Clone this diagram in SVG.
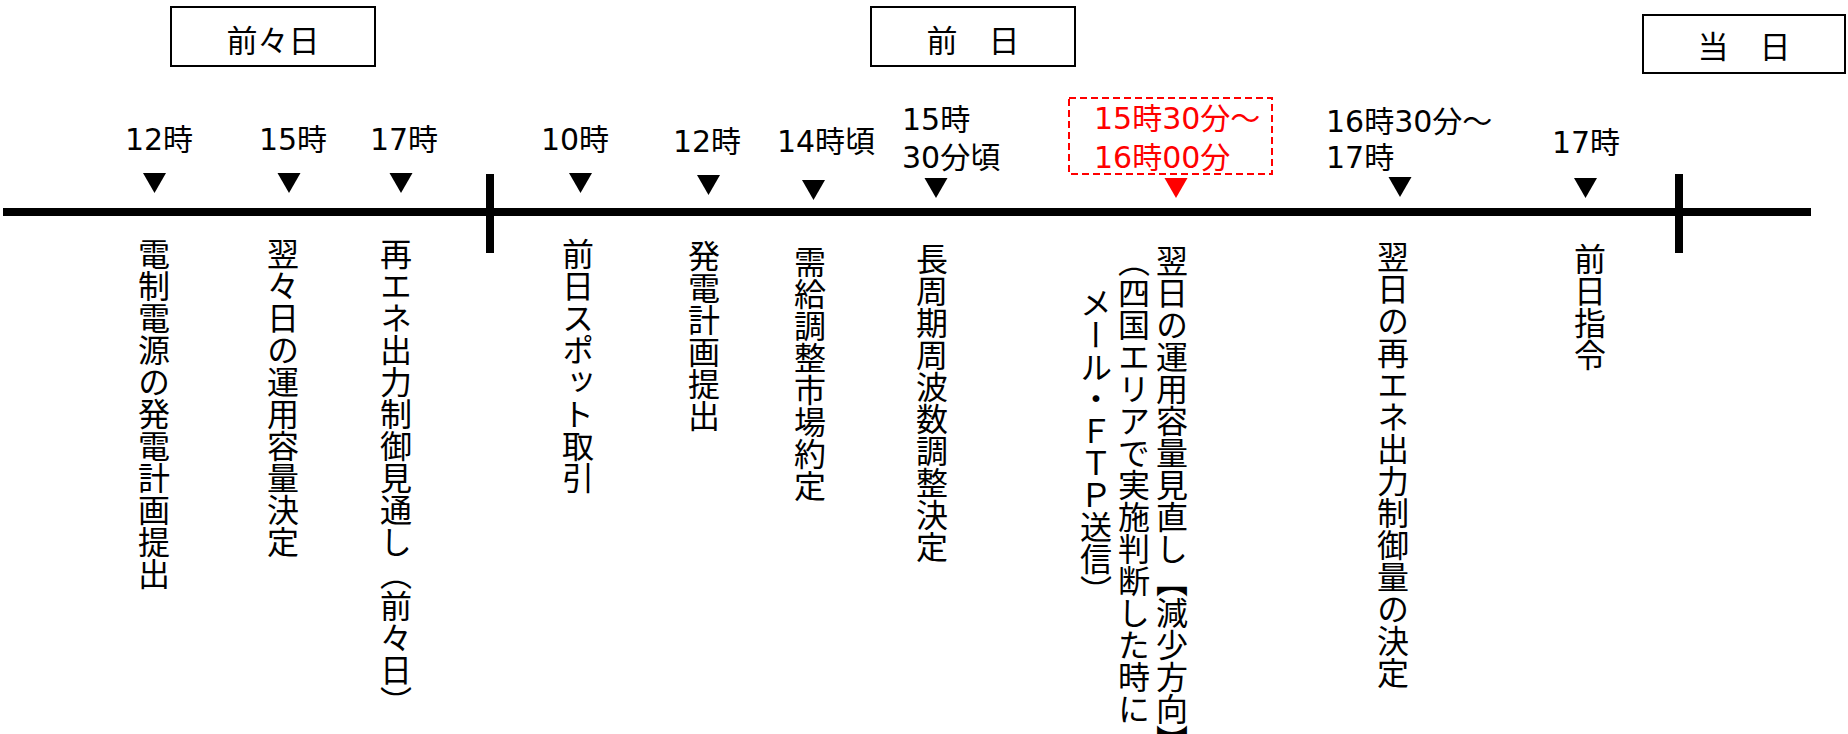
<svg xmlns="http://www.w3.org/2000/svg" width="1848" height="734" viewBox="0 0 1848 734">
<style>
.bg{fill:#fff}
.box{fill:#fff;stroke:#000;stroke-width:2}
.rbox{fill:none;stroke:#f00;stroke-width:2;stroke-dasharray:7 4}
.bt{font-family:"Noto Sans CJK JP",sans-serif;font-size:31px;fill:#000;text-anchor:middle}
.tl{font-family:"DejaVu Sans","Noto Sans CJK JP",sans-serif;font-size:30px;fill:#000}
.m{text-anchor:middle}
.red{fill:#f00}
.vt{font-family:"Noto Sans CJK JP",sans-serif;font-size:32px;fill:#000;writing-mode:vertical-rl}
.tri{fill:#000}
.line{stroke:#000;stroke-width:8;fill:none}
</style>
<defs>
<path id="tri" d="M-11.5,0 L11.5,0 L0,20 Z"/>
</defs>
<rect class="bg" x="0" y="0" width="1848" height="734"/>

<g id="connectors">
<line class="line" x1="3" y1="212" x2="1811" y2="212"/>
<line class="line" x1="490" y1="174" x2="490" y2="253"/>
<line class="line" x1="1679" y1="174" x2="1679" y2="253"/>
</g>

<g id="day-before-before">
<rect class="box" x="171" y="7" width="204" height="59"/>
<text class="bt" x="273" y="52">前々日</text>
</g>
<g id="day-before">
<rect class="box" x="871" y="7" width="204" height="59"/>
<text class="bt" x="973" y="52">前　日</text>
</g>
<g id="same-day">
<rect class="box" x="1643" y="15" width="202" height="58"/>
<text class="bt" x="1744" y="58">当　日</text>
</g>

<g id="ev1">
<text class="tl m" x="159" y="150">12時</text>
<use href="#tri" x="154.5" y="173"/>
<text class="vt" x="154" y="238">電制電源の発電計画提出</text>
</g>
<g id="ev2">
<text class="tl m" x="293" y="150">15時</text>
<use href="#tri" x="289" y="173"/>
<text class="vt" x="283" y="238">翌々日の運用容量決定</text>
</g>
<g id="ev3">
<text class="tl m" x="404" y="150">17時</text>
<use href="#tri" x="401" y="173"/>
<text class="vt" x="396" y="238">再エネ出力制御見通し（前々日）</text>
</g>
<g id="ev4">
<text class="tl m" x="575" y="150">10時</text>
<use href="#tri" x="580.5" y="173"/>
<text class="vt" x="578" y="238">前日スポット取引</text>
</g>
<g id="ev5">
<text class="tl m" x="707" y="152">12時</text>
<use href="#tri" x="708.5" y="175"/>
<text class="vt" x="704" y="240">発電計画提出</text>
</g>
<g id="ev6">
<text class="tl m" x="826" y="152">14時頃</text>
<use href="#tri" x="813.5" y="180"/>
<text class="vt" x="810" y="246">需給調整市場約定</text>
</g>
<g id="ev7">
<text class="tl" x="902" y="130">15時</text>
<text class="tl" x="902" y="168">30分頃</text>
<use href="#tri" x="936" y="178"/>
<text class="vt" x="932" y="243">長周期周波数調整決定</text>
</g>
<g id="ev8">
<rect class="rbox" x="1069" y="98" width="203" height="76"/>
<text class="tl red" x="1094" y="129">15時30分～</text>
<text class="tl red" x="1094" y="168">16時00分</text>
<use href="#tri" x="1176" y="178" fill="#f00" style="fill:#f00"/>
<text class="vt red" x="1172" y="245">翌日の運用容量見直し【減少方向】</text>
<text class="vt red" x="1134" y="245">（四国エリアで実施判断した時に</text>
<text class="vt red" x="1096" y="287">メール・ＦＴＰ送信）</text>
</g>
<g id="ev9">
<text class="tl" x="1326" y="132">16時30分～</text>
<text class="tl" x="1326" y="168">17時</text>
<use href="#tri" x="1400" y="177"/>
<text class="vt" x="1393" y="241">翌日の再エネ出力制御量の決定</text>
</g>
<g id="ev10">
<text class="tl m" x="1586" y="153">17時</text>
<use href="#tri" x="1585.5" y="178"/>
<text class="vt" x="1590" y="243">前日指令</text>
</g>
</svg>
